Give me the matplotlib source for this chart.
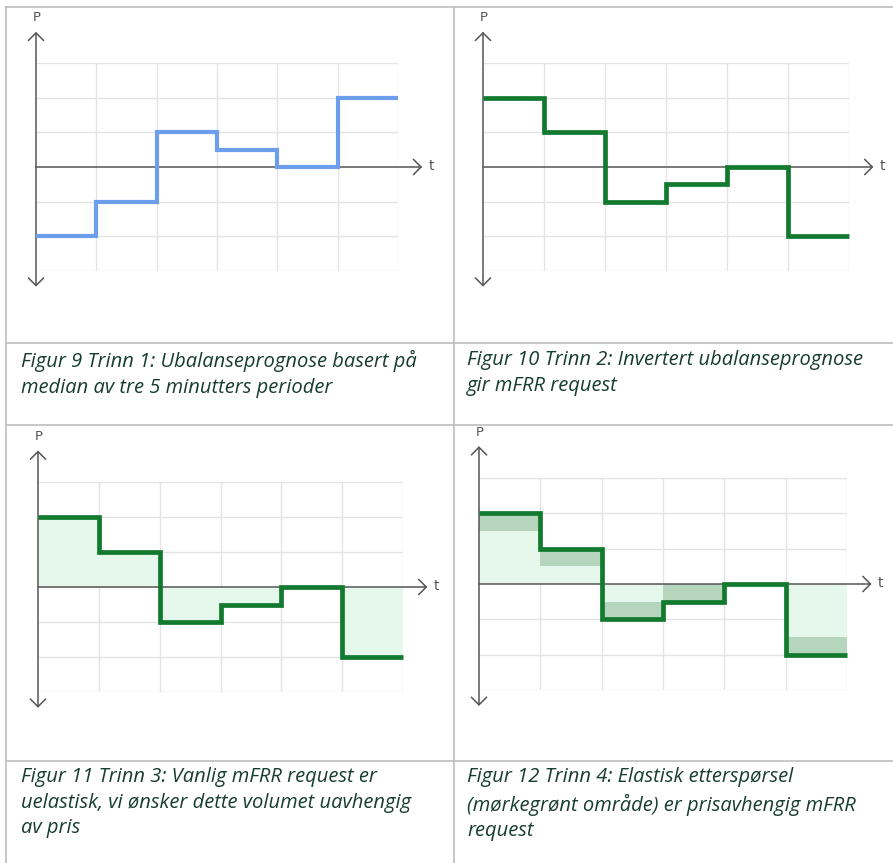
import numpy as np
import matplotlib
matplotlib.use("Agg")
import matplotlib.pyplot as plt

W, H = 893, 863

# step values per 5-min period (grid units)
periods = [0, 1, 2, 3, 4, 5, 6]
imbalance = [-2, -1, 1, 0.5, 0, 2]
request = [2, 1, -1, -0.5, 0, -2]
elastic = [0.5, 0.5, 0.5, 0.5, 0, 0.5]

captions = [
    "Figur 9 Trinn 1: Ubalanseprognose basert på\nmedian av tre 5 minutters perioder",
    "Figur 10 Trinn 2: Invertert ubalanseprognose\ngir mFRR request",
    "Figur 11 Trinn 3: Vanlig mFRR request er\nuelastisk, vi ønsker dette volumet uavhengig\nav pris",
    "Figur 12 Trinn 4: Elastisk etterspørsel\n(mørkegrønt område) er prisavhengig mFRR\nrequest",
]

BLUE = "#6d9eeb"
GREEN = "#127a2e"
LIGHT = "#e6f8eb"
DARK = "#b5d5bd"
GRID = "#e4e4e4"
AXIS = "#555555"
TEXT = "#173d2f"
RULE = "#bdbdbd"

fig = plt.figure(figsize=(W / 100, H / 100), dpi=100)

# table frame and captions, in pixel coords
bg = fig.add_axes([0, 0, 1, 1])
bg.set_xlim(0, W)
bg.set_ylim(H, 0)
bg.set_axis_off()
for y in [7, 343, 425, 761]:
    bg.plot([6, W], [y, y], color=RULE, lw=1.2)
for x in [6, 454]:
    bg.plot([x, x], [7, H], color=RULE, lw=1.2)

cap_pos = [(21, 350), (467, 350), (21, 767), (467, 767)]
for (cx, cy), txt in zip(cap_pos, captions):
    bg.text(cx, cy, txt, ha="left", va="top", fontsize=14.5, family="Open Sans",
            style="italic", color=TEXT, linespacing=1.38)


def chart(box):
    x0, y0, x1, y1 = box
    ax = fig.add_axes([x0 / W, 1 - y1 / H, (x1 - x0) / W, (y1 - y0) / H])
    ax.set_xlim(0, 6)
    ax.set_ylim(-3, 3)
    ax.set_axis_off()
    for gx in range(1, 7):
        ax.plot([gx, gx], [-3, 3], color=GRID, lw=1, zorder=1)
    for gy in [-3, -2, -1, 1, 2, 3]:
        ax.plot([0, 6], [gy, gy], color=GRID, lw=1, zorder=1)
    return ax


def axes_arrows(ax):
    ax.annotate("", xy=(0, 3.9), xytext=(0, -3.45),
                arrowprops=dict(arrowstyle="<->,head_length=0.55,head_width=0.55",
                                color=AXIS, lw=1.1, shrinkA=0, shrinkB=0),
                annotation_clip=False, zorder=3)
    ax.annotate("", xy=(6.4, 0), xytext=(0, 0),
                arrowprops=dict(arrowstyle="->,head_length=0.55,head_width=0.55",
                                color=AXIS, lw=1.1, shrinkA=0, shrinkB=0),
                annotation_clip=False, zorder=3)
    ax.text(0.02, 4.3, "P", ha="center", va="center", fontsize=9.5,
            color=AXIS, clip_on=False)
    ax.text(6.55, 0.02, "t", ha="center", va="center", fontsize=10,
            color=AXIS, clip_on=False)


def step_line(ax, vals, color, lw):
    s = ax.stairs(vals, periods, baseline=None, color=color, lw=lw, zorder=5)
    s.set_joinstyle("miter")
    s.set_capstyle("butt")
    s.set_clip_on(False)


boxes = [(36, 63, 398, 271), (483, 63, 849, 271),
         (38, 482, 403, 692), (479, 478, 847, 690)]

# 1: imbalance forecast
ax1 = chart(boxes[0])
axes_arrows(ax1)
step_line(ax1, imbalance, BLUE, 3.0)

# 2: inverted -> mFRR request
ax2 = chart(boxes[1])
axes_arrows(ax2)
step_line(ax2, request, GREEN, 3.4)

# 3: inelastic volume
ax3 = chart(boxes[2])
ax3.stairs(request, periods, baseline=0, fill=True, color=LIGHT, zorder=2)
axes_arrows(ax3)
step_line(ax3, request, GREEN, 3.4)

# 4: elastic part near the line
req = np.array(request)
inner = req - np.sign(req) * np.array(elastic)
ax4 = chart(boxes[3])
ax4.stairs(request, periods, baseline=0, fill=True, color=LIGHT, zorder=2)
ax4.stairs(request, periods, baseline=inner, fill=True, color=DARK, zorder=2)
axes_arrows(ax4)
step_line(ax4, request, GREEN, 3.4)

fig.savefig("out.png", dpi=100)
